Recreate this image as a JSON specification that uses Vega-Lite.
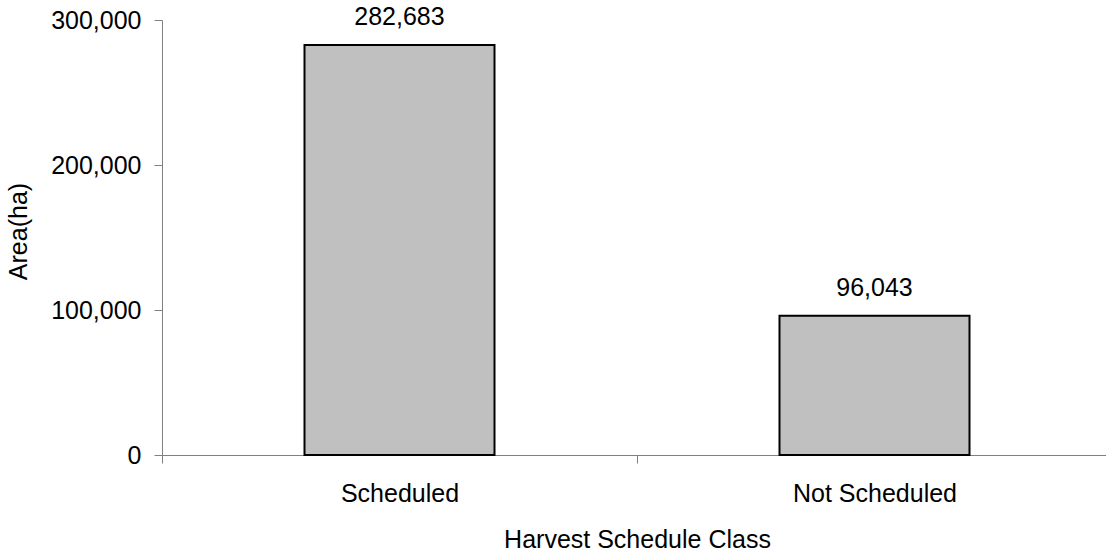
{
  "$schema": "https://vega.github.io/schema/vega-lite/v6.json",
  "autosize": {"type": "none"},
  "width": 944,
  "height": 435,
  "padding": {"left": 162, "top": 20, "right": 0, "bottom": 97},
  "background": "white",
  "config": {
    "view": {"stroke": null},
    "font": "Liberation Sans",
    "axis": {"grid": false, "domainColor": "#808080", "tickColor": "#808080", "domainWidth": 1, "tickWidth": 1, "tickSize": 8, "labelColor": "black", "titleColor": "black", "labelFont": "Liberation Sans", "titleFont": "Liberation Sans", "labelFontSize": 25, "titleFontSize": 25, "titleFontWeight": "normal"}
  },
  "data": {"values": [
    {"class": "Scheduled", "area": 282683},
    {"class": "Not Scheduled", "area": 96043}
  ]},
  "encoding": {
    "x": {"field": "class", "type": "nominal", "sort": null,
      "scale": {"paddingInner": 0, "paddingOuter": 0, "range": [0, 950]},
      "axis": {"title": "Harvest Schedule Class", "labelAngle": 0, "tickBand": "extent", "labelBaseline": "alphabetic", "labelPadding": 38, "titleBaseline": "alphabetic", "titleY": 92.5, "titleX": 475}},
    "y": {"field": "area", "type": "quantitative",
      "scale": {"domain": [0, 300000], "nice": false},
      "axis": {"title": "Area(ha)", "values": [0, 100000, 200000, 300000], "labelExpr": "format(datum.value, ',')", "labelPadding": 13, "labelBaseline": "middle", "titleAngle": -90, "titleBaseline": "alphabetic", "titleAlign": "center", "titleX": -135.3, "titleY": 211}}
  },
  "layer": [
    {"mark": {"type": "bar", "fill": "#c0c0c0", "stroke": "black", "strokeWidth": 2, "width": {"band": 0.4}}},
    {"mark": {"type": "text", "baseline": "alphabetic", "dy": -20, "fontSize": 25, "color": "black", "font": "Liberation Sans"},
      "encoding": {"text": {"field": "area", "type": "quantitative", "format": ","}}}
  ]
}
